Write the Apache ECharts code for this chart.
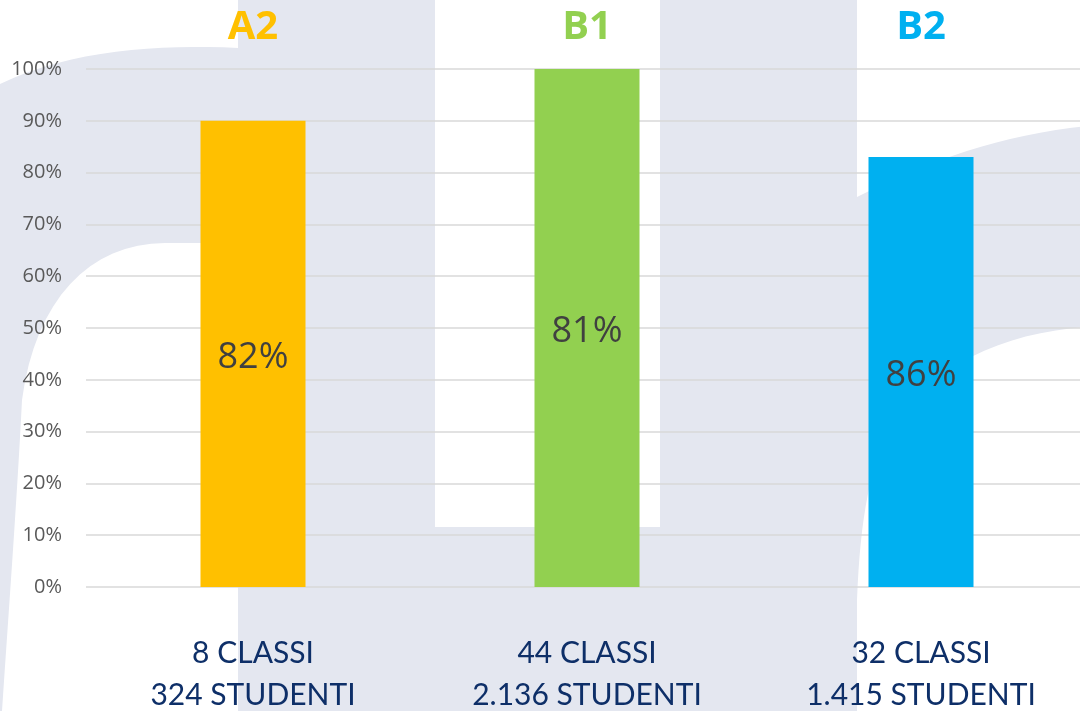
<!DOCTYPE html>
<html>
<head>
<meta charset="utf-8">
<script src="https://cdn.jsdelivr.net/npm/echarts@6/dist/echarts.min.js"></script>
<style>
  html, body { margin: 0; padding: 0; background: #fff; overflow: hidden; }
  #chart { width: 1088px; height: 711px; }
</style>
</head>
<body>
<div id="chart"></div>
<script>
// levels, bar heights and the percentages printed inside the bars
const levels = ["A2", "B1", "B2"];
const barValues = [90, 100, 83];
const barLabels = ["82%", "81%", "86%"];
const classes = ["8 CLASSI", "44 CLASSI", "32 CLASSI"];
const students = ["324 STUDENTI", "2.136 STUDENTI", "1.415 STUDENTI"];
const levelColors = ["#FFC000", "#92D050", "#00B0F0"];

const chart = echarts.init(document.getElementById("chart"));

// sample a cubic bezier into points (for the watermark outline)
function bez(p0, p1, p2, p3, n = 16) {
  const pts = [];
  for (let k = 1; k <= n; k++) {
    const t = k / n, u = 1 - t;
    pts.push([
      u * u * u * p0[0] + 3 * u * u * t * p1[0] + 3 * u * t * t * p2[0] + t * t * t * p3[0],
      u * u * u * p0[1] + 3 * u * u * t * p1[1] + 3 * u * t * t * p2[1] + t * t * t * p3[1],
    ]);
  }
  return pts;
}

// faint watermark shapes behind the plot
const wm = "#E4E7F0";
const leftPts = [[0, 84]]
  .concat(bez([0, 84], [70, 50], [160, 44], [238, 48]))
  .concat([[238, 243], [165, 243]])
  .concat(bez([165, 243], [90, 243], [35, 300], [22, 400]))
  .concat(bez([22, 400], [17, 500], [8, 620], [2, 711]))
  .concat([[0, 711]]);
const rightPts = [[857, 197]]
  .concat(bez([857, 197], [930, 160], [1000, 135], [1088, 126]))
  .concat([[1088, 327]])
  .concat(bez([1088, 327], [1000, 332], [930, 370], [895, 420]))
  .concat(bez([895, 420], [870, 460], [860, 520], [857, 600]));

const watermark = [
  { type: "rect", shape: { x: 238, y: 0, width: 197, height: 711 } },
  { type: "rect", shape: { x: 435, y: 527, width: 225, height: 184 } },
  { type: "rect", shape: { x: 660, y: 0, width: 197, height: 711 } },
  { type: "polygon", shape: { points: leftPts } },
  { type: "polygon", shape: { points: rightPts } },
].map(g => Object.assign(g, { z: -10, silent: true, style: { fill: wm } }));

chart.setOption({
  backgroundColor: "#fff",
  graphic: watermark,
  grid: { left: 86, right: 0, top: 69, bottom: 124 },
  xAxis: [{
    type: "category",
    data: levels,
    axisLine: { show: false },
    axisTick: { show: false },
    axisLabel: {
      margin: 45,
      formatter: (v, i) => "{t|" + classes[i] + "}\n{t|" + students[i] + "}",
      rich: { t: { fontFamily: "Lato", fontSize: 30, color: "#0E2F68", lineHeight: 42 } },
    },
  }, {
    type: "category",
    position: "top",
    data: levels,
    axisLine: { show: false },
    axisTick: { show: false },
    axisLabel: {
      margin: 21,
      fontFamily: "Open Sans",
      fontWeight: "bold",
      fontSize: 40,
      color: (v, i) => levelColors[levels.indexOf(v)],
    },
  }],
  yAxis: {
    type: "value",
    min: 0,
    max: 100,
    interval: 10,
    axisLine: { show: false },
    axisTick: { show: false },
    axisLabel: {
      margin: 24,
      formatter: "{value}%",
      fontFamily: "Open Sans",
      fontSize: 20,
      color: "#595959",
    },
    splitLine: { lineStyle: { color: "#D9D9D9", width: 1.5 } },
  },
  series: [{
    type: "bar",
    barWidth: 105,
    data: barValues.map((v, i) => ({ value: v, itemStyle: { color: levelColors[i] } })),
    label: {
      show: true,
      position: "inside",
      offset: [0, 4],
      formatter: p => barLabels[p.dataIndex],
      fontFamily: "Open Sans",
      fontSize: 36,
      color: "#404040",
      textBorderWidth: 0,
    },
  }],
});
</script>
</body>
</html>
